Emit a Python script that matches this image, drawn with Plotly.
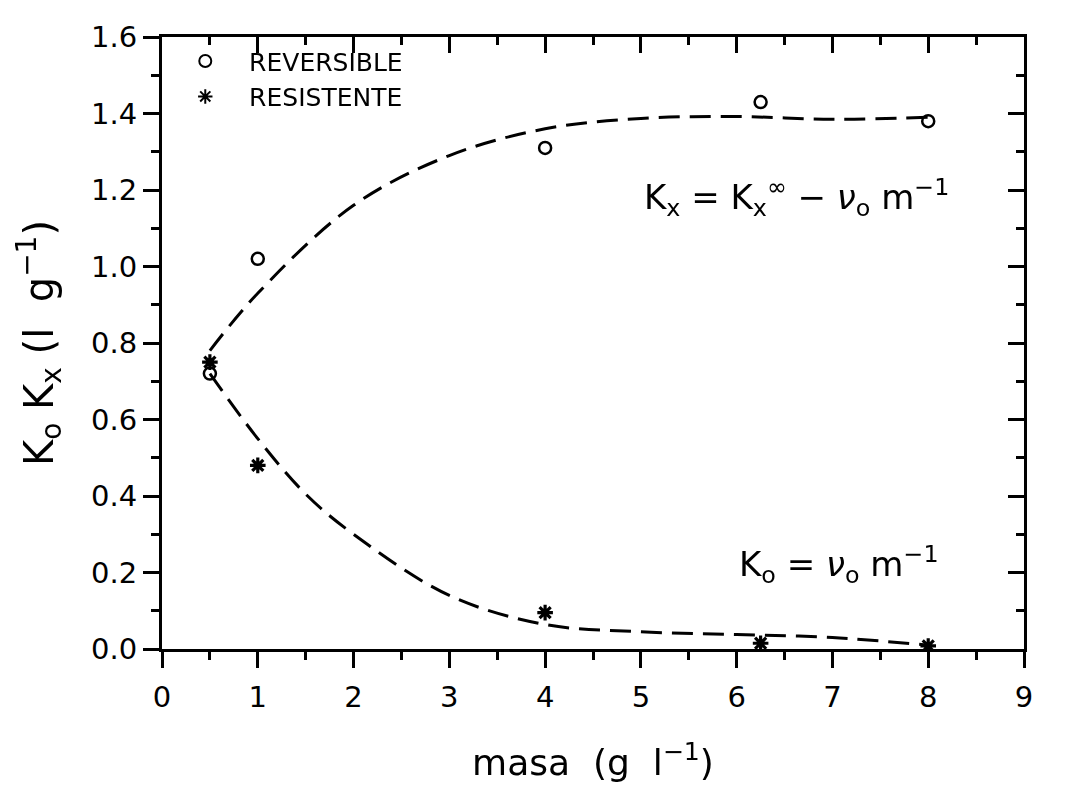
import plotly.graph_objects as go

# measured points
masa = [0.5, 1.0, 4.0, 6.25, 8.0]
reversible = [0.72, 1.02, 1.31, 1.43, 1.38]
resistente = [0.75, 0.48, 0.095, 0.015, 0.008]

# dashed fitted curves
fit_x_up = [0.5, 1.0, 2.0, 3.0, 4.0, 5.0, 6.0, 7.0, 8.0]
fit_y_up = [0.78, 0.93, 1.16, 1.29, 1.36, 1.387, 1.392, 1.385, 1.39]
fit_x_lo = [0.5, 1.0, 1.5, 2.0, 3.0, 4.0, 5.0, 6.0, 7.0, 8.0]
fit_y_lo = [0.72, 0.55, 0.405, 0.30, 0.14, 0.064, 0.045, 0.038, 0.03, 0.01]

x_ticks = list(range(0, 10))
y_ticks = [0.0, 0.2, 0.4, 0.6, 0.8, 1.0, 1.2, 1.4, 1.6]
y_labels = [f"{v:.1f}" for v in y_ticks]

FONT = "DejaVu Sans"
dash = "21px,10px"
NB = "\u00a0"

fig = go.Figure()
fig.add_trace(go.Scatter(x=fit_x_up, y=fit_y_up, mode="lines", line=dict(color="black", width=3, dash=dash, shape="spline"),
                         showlegend=False, hoverinfo="skip"))
fig.add_trace(go.Scatter(x=fit_x_lo, y=fit_y_lo, mode="lines", line=dict(color="black", width=3, dash=dash, shape="spline"),
                         showlegend=False, hoverinfo="skip"))
fig.add_trace(go.Scatter(x=masa, y=reversible, mode="markers", name=NB * 3 + "REVERSIBLE", legendgroup="a",
                         marker=dict(symbol="circle-open", size=12, color="black", line=dict(width=2.5, color="black"))))
fig.add_trace(go.Scatter(x=masa, y=resistente, mode="markers", name=NB * 3 + "RESISTENTE", legendgroup="b",
                         marker=dict(symbol="asterisk-open", size=13, color="black", line=dict(width=3.2, color="black"))))
# invisible trace for the mirrored axes
fig.add_trace(go.Scatter(x=masa, y=reversible, xaxis="x2", yaxis="y2", mode="markers", opacity=0,
                         showlegend=False, hoverinfo="skip"))

axis_common = dict(showline=True, linecolor="black", linewidth=3, showgrid=False, zeroline=False,
                   tickcolor="black", tickwidth=2.5, ticklen=16)

fig.update_layout(
    width=1069, height=787,
    paper_bgcolor="white", plot_bgcolor="white",
    margin=dict(l=154, r=53, t=19, b=146),
    font=dict(family=FONT, color="black"),
    xaxis=dict(range=[0, 9], tickvals=x_ticks, ticks="outside",
               tickfont=dict(size=29, family=FONT), ticklabelstandoff=4,
               minor=dict(dtick=0.5, ticklen=8, tickwidth=2.5, ticks="outside", tickcolor="black"),
               title=dict(text=NB * 4 + "masa" + NB * 2 + "(g" + NB * 2 + "l<sup>−1</sup>)",
                          font=dict(size=36, family=FONT), standoff=38),
               **axis_common),
    yaxis=dict(range=[0, 1.6], tickvals=y_ticks, ticktext=y_labels, ticks="outside",
               tickfont=dict(size=29, family=FONT),
               minor=dict(dtick=0.1, ticklen=8, tickwidth=2.5, ticks="outside", tickcolor="black"),
               title=dict(text=NB * 2 + "K<sub>o</sub>" + NB + "K<sub>x</sub>" + NB + "(l" + NB * 2 + "g<sup>−1</sup>)",
                          font=dict(size=40, family=FONT), standoff=26),
               **axis_common),
    xaxis2=dict(range=[0, 9], overlaying="x", side="top", tickvals=x_ticks, ticks="inside", showticklabels=False,
                minor=dict(dtick=0.5, ticklen=8, tickwidth=2.5, ticks="inside", tickcolor="black"),
                **axis_common),
    yaxis2=dict(range=[0, 1.6], overlaying="y", side="right", tickvals=y_ticks, ticks="inside", showticklabels=False,
                minor=dict(dtick=0.1, ticklen=8, tickwidth=2.5, ticks="inside", tickcolor="black"),
                **axis_common),
    legend=dict(x=0.027, y=0.998, xanchor="left", yanchor="top", bgcolor="rgba(0,0,0,0)",
                font=dict(size=25, family=FONT), tracegroupgap=0, itemsizing="constant"),
    annotations=[
        dict(x=6.62, y=1.18, xref="x", yref="y", xanchor="center", yanchor="middle", showarrow=False,
             text="K<sub>x</sub> = K<sub>x</sub><sup>∞</sup> − <i>ν</i><sub>o</sub> m<sup>−1</sup>",
             font=dict(size=34, family=FONT)),
        dict(x=7.07, y=0.22, xref="x", yref="y", xanchor="center", yanchor="middle", showarrow=False,
             text="K<sub>o</sub> = <i>ν</i><sub>o</sub> m<sup>−1</sup>",
             font=dict(size=34, family=FONT)),
    ],
)

fig.write_html("out.html")
